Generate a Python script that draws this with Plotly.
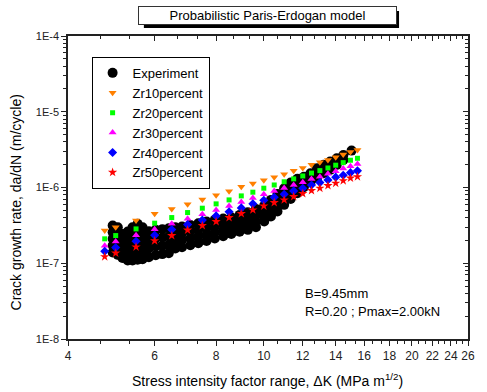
import plotly.graph_objects as go

# ---------------- data ----------------
# Experiment (dense cloud), columns of points
exp_K = (
    [4.93] * 5 + [5.05] * 5 + [5.16] * 5 + [5.29] * 5 + [5.41] * 6 + [5.54] * 6 + [5.67] * 5 +
    [5.84] * 4 + [6.03] * 4 + [6.22] * 4 + [6.41] * 4 + [6.61] * 4 + [6.82] * 4 + [7.09] * 4 +
    [7.36] * 4 + [7.65] * 4 + [7.95] * 4 + [8.27] * 4 + [8.59] * 4 + [8.93] * 4 + [9.28] * 4 +
    [9.64] * 4 + [10.02] * 4 + [10.34] * 4 + [10.66] * 4 + [11.00] * 4 + [11.34] * 4 +
    [11.70] * 3 + [12.06] * 3 + [12.44] * 3 + [12.83] * 3 + [13.23] * 3 + [13.64] * 3 +
    [14.07] * 3 + [14.51] * 2 + [15.08] * 1
)
exp_dadn = [
    3.15e-7, 2.57e-7, 2.10e-7, 1.71e-7, 1.39e-7,
    2.99e-7, 2.42e-7, 1.95e-7, 1.58e-7, 1.29e-7,
    2.44e-7, 2.04e-7, 1.70e-7, 1.40e-7, 1.17e-7,
    2.62e-7, 2.10e-7, 1.68e-7, 1.36e-7, 1.09e-7,
    2.99e-7, 2.44e-7, 1.99e-7, 1.63e-7, 1.33e-7, 1.09e-7,
    3.31e-7, 2.65e-7, 2.12e-7, 1.70e-7, 1.37e-7, 1.11e-7,
    2.99e-7, 2.35e-7, 1.84e-7, 1.44e-7, 1.13e-7,
    2.65e-7, 2.04e-7, 1.57e-7, 1.20e-7,
    2.76e-7, 2.14e-7, 1.66e-7, 1.28e-7,
    2.82e-7, 2.19e-7, 1.70e-7, 1.32e-7,
    2.90e-7, 2.25e-7, 1.75e-7, 1.36e-7,
    2.99e-7, 2.42e-7, 1.94e-7, 1.57e-7,
    3.05e-7, 2.47e-7, 2.02e-7, 1.63e-7,
    3.21e-7, 2.62e-7, 2.12e-7, 1.73e-7,
    3.38e-7, 2.76e-7, 2.25e-7, 1.84e-7,
    3.55e-7, 2.93e-7, 2.39e-7, 1.97e-7,
    3.74e-7, 3.08e-7, 2.57e-7, 2.12e-7,
    3.89e-7, 3.24e-7, 2.73e-7, 2.28e-7,
    4.05e-7, 3.41e-7, 2.90e-7, 2.44e-7,
    4.35e-7, 3.66e-7, 3.08e-7, 2.60e-7,
    4.72e-7, 3.93e-7, 3.31e-7, 2.76e-7,
    5.22e-7, 4.35e-7, 3.59e-7, 2.99e-7,
    5.78e-7, 4.91e-7, 4.18e-7, 3.55e-7,
    6.86e-7, 5.78e-7, 4.91e-7, 4.14e-7,
    8.23e-7, 6.86e-7, 5.78e-7, 4.81e-7,
    9.78e-7, 8.23e-7, 7.00e-7, 5.90e-7,
    1.16e-6, 9.88e-7, 8.32e-7, 7.07e-7,
    1.30e-6, 1.05e-6, 8.40e-7,
    1.39e-6, 1.19e-6, 1.01e-6,
    1.54e-6, 1.35e-6, 1.17e-6,
    1.80e-6, 1.54e-6, 1.33e-6,
    1.99e-6, 1.74e-6, 1.54e-6,
    2.20e-6, 1.93e-6, 1.71e-6,
    2.43e-6, 2.20e-6, 1.99e-6,
    2.69e-6, 2.31e-6,
    3.07e-6,
]

# Model predictions
model_K = [4.75, 5.0, 5.5, 6.0, 6.5, 7.0, 7.5, 8.0, 8.5, 9.0, 9.5, 10.0, 10.5, 11.0,
           11.5, 12.0, 12.5, 13.0, 13.5, 14.0, 14.5, 15.0, 15.5]
zr10 = [2.70e-7, 2.99e-7, 3.66e-7, 4.49e-7, 5.22e-7, 6.03e-7, 6.94e-7, 7.91e-7, 8.93e-7,
        1.02e-6, 1.13e-6, 1.25e-6, 1.37e-6, 1.50e-6, 1.66e-6, 1.81e-6, 1.99e-6, 2.16e-6,
        2.31e-6, 2.51e-6, 2.72e-6, 2.95e-6, 3.13e-6]
zr20 = [2.10e-7, 2.32e-7, 2.84e-7, 3.38e-7, 4.01e-7, 4.67e-7, 5.33e-7, 6.08e-7, 6.86e-7,
        7.75e-7, 8.67e-7, 9.79e-7, 1.08e-6, 1.19e-6, 1.30e-6, 1.42e-6, 1.55e-6, 1.67e-6,
        1.81e-6, 1.97e-6, 2.13e-6, 2.29e-6, 2.43e-6]
zr30 = [1.70e-7, 1.94e-7, 2.35e-7, 2.82e-7, 3.31e-7, 3.86e-7, 4.45e-7, 5.06e-7, 5.71e-7,
        6.45e-7, 7.29e-7, 8.16e-7, 9.02e-7, 9.88e-7, 1.08e-6, 1.17e-6, 1.29e-6, 1.39e-6,
        1.52e-6, 1.64e-6, 1.78e-6, 1.91e-6, 2.05e-6]
zr40 = [1.44e-7, 1.61e-7, 1.95e-7, 2.35e-7, 2.79e-7, 3.24e-7, 3.71e-7, 4.22e-7, 4.77e-7,
        5.38e-7, 6.08e-7, 6.79e-7, 7.45e-7, 8.16e-7, 9.02e-7, 9.79e-7, 1.08e-6, 1.16e-6,
        1.26e-6, 1.37e-6, 1.45e-6, 1.57e-6, 1.66e-6]
zr50 = [1.22e-7, 1.36e-7, 1.64e-7, 1.98e-7, 2.32e-7, 2.74e-7, 3.14e-7, 3.55e-7, 4.01e-7,
        4.53e-7, 5.06e-7, 5.71e-7, 6.32e-7, 6.86e-7, 7.59e-7, 8.32e-7, 9.10e-7, 9.79e-7,
        1.06e-6, 1.14e-6, 1.23e-6, 1.33e-6, 1.39e-6]

x_ticks = [4, 6, 8, 10, 12, 14, 16, 18, 20, 22, 24, 26]
x_minor = [4.667, 5.333, 6.667, 7.333, 8.667, 9.333, 10.667, 11.333, 12.667, 13.333,
           14.667, 15.333, 16.667, 17.333, 18.667, 19.333, 20.667, 21.333, 22.667, 23.333,
           24.667, 25.333]
y_ticks = [1e-8, 1e-7, 1e-6, 1e-5, 1e-4]
y_ticktext = ["1E-8", "1E-7", "1E-6", "1E-5", "1E-4"]
y_minor = [m * 10.0 ** e for e in range(-8, -4) for m in range(2, 10)]

FONT = "Liberation Sans, Arial, sans-serif"

fig = go.Figure()
fig.add_trace(go.Scatter(x=exp_K, y=exp_dadn, mode="markers", name="Experiment",
                         marker=dict(symbol="circle", size=10, color="black",
                                     line=dict(width=0))))
series = [
    ("Zr10percent", zr10, "triangle-down", "#FF8000", 7),
    ("Zr20percent", zr20, "square", "#00FF00", 5),
    ("Zr30percent", zr30, "triangle-up", "#FF00FF", 7),
    ("Zr40percent", zr40, "diamond", "#0000FF", 7),
    ("Zr50percent", zr50, "star", "#FF0000", 7),
]
for name, vals, sym, col, sz in series:
    fig.add_trace(go.Scatter(x=model_K, y=vals, mode="markers", name=name,
                             marker=dict(symbol=sym, size=sz, color=col, line=dict(width=0))))

# invisible trace to hold the mirrored (inside-tick) axes
fig.add_trace(go.Scatter(x=model_K, y=zr10, xaxis="x2", yaxis="y2", mode="markers",
                         marker=dict(opacity=0), showlegend=False, hoverinfo="skip"))

axis_col = "#222222"
fig.update_layout(
    width=487, height=392,
    margin=dict(l=68, r=13, t=36, b=53),
    paper_bgcolor="white", plot_bgcolor="white",
    font=dict(family=FONT, size=12, color="black"),
    showlegend=True,
    legend=dict(x=0.059, y=0.931, xanchor="left", yanchor="top",
                bordercolor="black", borderwidth=1, bgcolor="white",
                font=dict(family=FONT, size=13, color="black"),
                tracegroupgap=0, itemsizing="trace"),
    xaxis=dict(type="log", range=[0.60206, 1.41497], showgrid=False, zeroline=False,
               showline=True, linecolor=axis_col, linewidth=1.5, mirror=True,
               ticks="outside", ticklen=5, tickwidth=1, tickcolor=axis_col,
               tickmode="array", tickvals=x_ticks, ticktext=[str(v) for v in x_ticks],
               tickfont=dict(size=12, color="#222"),
               minor=dict(tickmode="array", tickvals=x_minor, ticks="outside",
                          ticklen=3, tickcolor=axis_col)),
    yaxis=dict(type="log", range=[-8, -4], showgrid=False, zeroline=False,
               showline=True, linecolor=axis_col, linewidth=1.5, mirror=True,
               ticks="outside", ticklen=5, tickwidth=1, tickcolor=axis_col,
               tickmode="array", tickvals=y_ticks, ticktext=y_ticktext,
               tickfont=dict(size=11, color="#222"),
               minor=dict(tickmode="array", tickvals=y_minor, ticks="outside",
                          ticklen=3, tickcolor=axis_col)),
    xaxis2=dict(type="log", range=[0.60206, 1.41497], overlaying="x", side="top",
                anchor="y2", showgrid=False, zeroline=False, showline=False,
                ticks="inside", ticklen=5, tickcolor=axis_col, showticklabels=False,
                tickmode="array", tickvals=x_ticks,
                minor=dict(tickmode="array", tickvals=x_minor, ticks="inside",
                           ticklen=3, tickcolor=axis_col)),
    yaxis2=dict(type="log", range=[-8, -4], overlaying="y", side="right",
                anchor="x2", showgrid=False, zeroline=False, showline=False,
                ticks="inside", ticklen=5, tickcolor=axis_col, showticklabels=False,
                tickmode="array", tickvals=y_ticks,
                minor=dict(tickmode="array", tickvals=y_minor, ticks="inside",
                           ticklen=3, tickcolor=axis_col)),
)

# title box with drop shadow
fig.add_shape(type="rect", xref="paper", yref="paper", x0=0.1897, x1=0.8276,
              y0=1.0264, y1=1.0825, fillcolor="black", line=dict(width=0), layer="below")
fig.add_annotation(text="Probabilistic Paris-Erdogan model", xref="paper", yref="paper",
                   x=0.4988, y=1.0677, xanchor="center", yanchor="middle", showarrow=False,
                   width=255, height=15, borderpad=1, bgcolor="white",
                   bordercolor="#333", borderwidth=1,
                   font=dict(family=FONT, size=13, color="black"))

fig.add_annotation(text="B=9.45mm", xref="paper", yref="paper", x=0.5887, y=0.1518,
                   xanchor="left", yanchor="middle", showarrow=False,
                   font=dict(family=FONT, size=13, color="black"))
fig.add_annotation(text="R=0.20 ; Pmax=2.00kN", xref="paper", yref="paper", x=0.5887,
                   y=0.0924, xanchor="left", yanchor="middle", showarrow=False,
                   font=dict(family=FONT, size=13, color="black"))

fig.add_annotation(text="Stress intensity factor range, \u0394K (MPa m<sup>1/2</sup>)",
                   xref="paper", yref="paper", x=0.4988, y=-0.1353, showarrow=False,
                   xanchor="center", yanchor="middle",
                   font=dict(family=FONT, size=14, color="black"))
fig.add_annotation(text="Crack growth rate, da/dN (m/cycle)", xref="paper", yref="paper",
                   x=-0.1305, y=0.45, textangle=-90, showarrow=False,
                   xanchor="center", yanchor="middle",
                   font=dict(family=FONT, size=14, color="black"))

fig.write_html("out.html")
